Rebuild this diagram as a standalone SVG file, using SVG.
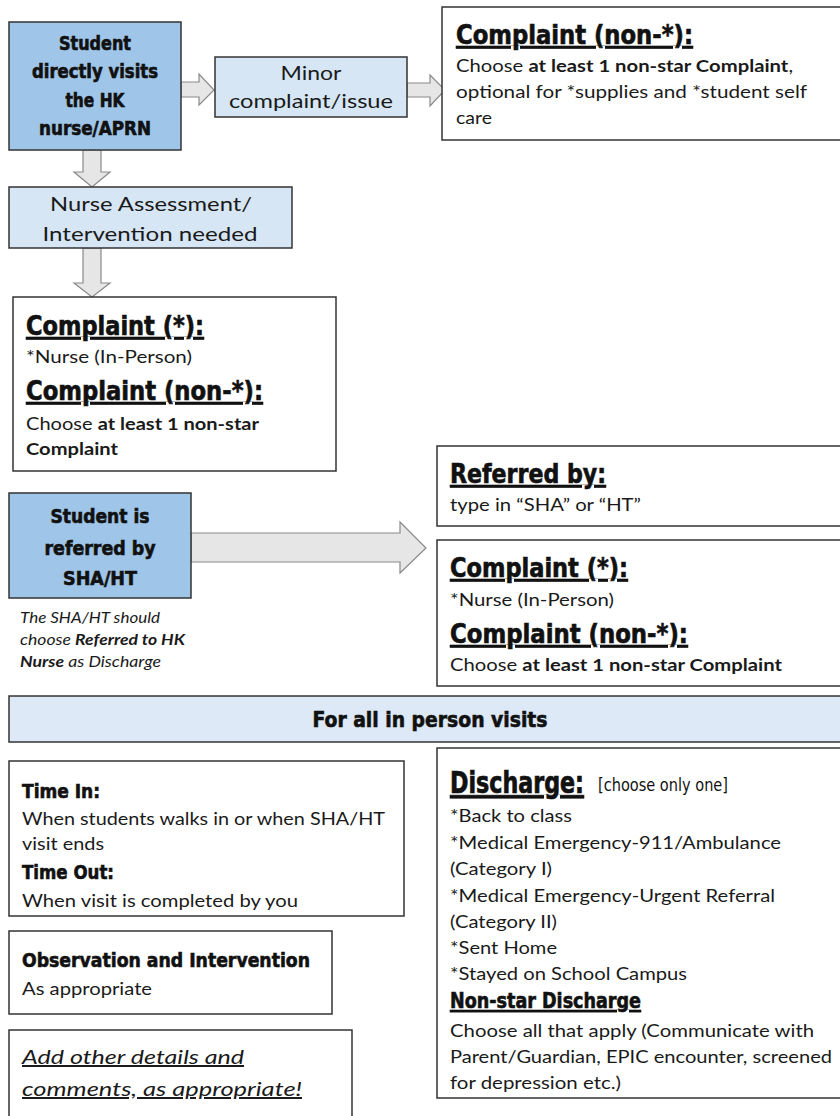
<svg xmlns="http://www.w3.org/2000/svg" width="840" height="1116" viewBox="0 0 840 1116">
<style>
.box{stroke:#333;stroke-width:1.5;fill:#fff}
.dark{fill:#9fc5e8}
.light{fill:#d6e6f5}
.band{fill:#dde9f6}
.arrow{fill:#e6e6e6;stroke:#8a8a8a;stroke-width:1.2;stroke-linejoin:miter}
.h{font-family:"DejaVu Sans Condensed","Liberation Sans Narrow","DejaVu Sans",sans-serif;font-weight:bold;fill:#111;stroke:#111;stroke-width:0.6}
.hn{font-family:"DejaVu Sans Condensed","Liberation Sans Narrow","DejaVu Sans",sans-serif;font-weight:normal;fill:#111;stroke:none}
.t{font-family:Lato,"Open Sans",sans-serif;fill:#1a1a1a}
.bb{font-weight:bold}
.u{text-decoration:underline}
.i{font-style:italic}
.mid{text-anchor:middle}
</style>
<rect width="840" height="1116" fill="#fff"/>

<g id="connectors">
<path class="arrow" d="M181,82 H199 V74 L214,90 L199,105 V97 H181 Z"/>
<path class="arrow" d="M407,83 H430 V75 L445,90 L430,106 V97 H407 Z"/>
<path class="arrow" d="M83,150 V172 H74 L92,187 L110,172 H101 V150 Z"/>
<path class="arrow" d="M83,248 V283 H74 L92,297 L110,283 H101 V248 Z"/>
<path class="arrow" d="M191,533 H400 V522 L426,548 L400,573 V562 H191 Z"/>
</g>

<g id="student-direct">
<rect class="box dark" x="9" y="22" width="172" height="128"/>
<text class="h mid" font-size="19" x="95" y="50" textLength="72" lengthAdjust="spacingAndGlyphs">Student</text>
<text class="h mid" font-size="19" x="95" y="78" textLength="126" lengthAdjust="spacingAndGlyphs">directly visits</text>
<text class="h mid" font-size="19" x="95" y="107" textLength="59" lengthAdjust="spacingAndGlyphs">the HK</text>
<text class="h mid" font-size="19" x="95" y="135" textLength="112" lengthAdjust="spacingAndGlyphs">nurse/APRN</text>
</g>

<g id="minor">
<rect class="box light" x="215" y="57" width="192" height="60"/>
<text class="t mid" font-size="19" x="311" y="80" textLength="61" lengthAdjust="spacingAndGlyphs">Minor</text>
<text class="t mid" font-size="19" x="311" y="108" textLength="164" lengthAdjust="spacingAndGlyphs">complaint/issue</text>
</g>

<g id="complaint-minor">
<rect class="box" x="442" y="7" width="410" height="133"/>
<text class="h u" font-size="26" x="456" y="44" textLength="237" lengthAdjust="spacingAndGlyphs">Complaint (non-*):</text>
<text class="t" font-size="17" x="456" y="72" textLength="337" lengthAdjust="spacingAndGlyphs">Choose <tspan class="bb">at least 1 non-star Complaint</tspan>,</text>
<text class="t" font-size="17" x="456" y="98" textLength="351" lengthAdjust="spacingAndGlyphs">optional for *supplies and *student self</text>
<text class="t" font-size="17" x="456" y="124" textLength="36" lengthAdjust="spacingAndGlyphs">care</text>
</g>

<g id="nurse-assessment">
<rect class="box light" x="9" y="187" width="283" height="61"/>
<text class="t mid" font-size="20" x="151" y="211" textLength="202" lengthAdjust="spacingAndGlyphs">Nurse Assessment/</text>
<text class="t mid" font-size="20" x="150" y="241" textLength="215" lengthAdjust="spacingAndGlyphs">Intervention needed</text>
</g>

<g id="complaint-assessment">
<rect class="box" x="13" y="297" width="323" height="174"/>
<text class="h u" font-size="26" x="26" y="335" textLength="178" lengthAdjust="spacingAndGlyphs">Complaint (*):</text>
<text class="t" font-size="17" x="26" y="363" textLength="166" lengthAdjust="spacingAndGlyphs">*Nurse (In-Person)</text>
<text class="h u" font-size="26" x="26" y="400" textLength="237" lengthAdjust="spacingAndGlyphs">Complaint (non-*):</text>
<text class="t" font-size="17" x="26" y="430" textLength="233" lengthAdjust="spacingAndGlyphs">Choose <tspan class="bb">at least 1 non-star</tspan></text>
<text class="t bb" font-size="17" x="26" y="455" textLength="92" lengthAdjust="spacingAndGlyphs">Complaint</text>
</g>

<g id="student-referred">
<rect class="box dark" x="9" y="493" width="182" height="105"/>
<text class="h mid" font-size="20" x="100" y="523" textLength="99" lengthAdjust="spacingAndGlyphs">Student is</text>
<text class="h mid" font-size="20" x="100" y="555" textLength="111" lengthAdjust="spacingAndGlyphs">referred by</text>
<text class="h mid" font-size="20" x="100" y="585" textLength="74" lengthAdjust="spacingAndGlyphs">SHA/HT</text>
</g>

<g id="referral-note">
<text class="t i" font-size="16" x="20" y="623" textLength="140" lengthAdjust="spacingAndGlyphs">The SHA/HT should</text>
<text class="t i" font-size="16" x="20" y="645" textLength="165" lengthAdjust="spacingAndGlyphs">choose <tspan class="bb">Referred to HK</tspan></text>
<text class="t i" font-size="16" x="20" y="667" textLength="141" lengthAdjust="spacingAndGlyphs"><tspan class="bb">Nurse</tspan> as Discharge</text>
</g>

<g id="referred-by">
<rect class="box" x="437" y="446" width="410" height="80"/>
<text class="h u" font-size="26" x="450" y="483" textLength="156" lengthAdjust="spacingAndGlyphs">Referred by:</text>
<text class="t" font-size="17" x="450" y="511" textLength="191" lengthAdjust="spacingAndGlyphs">type in “SHA” or “HT”</text>
</g>

<g id="complaint-referred">
<rect class="box" x="437" y="540" width="410" height="146"/>
<text class="h u" font-size="26" x="450" y="577" textLength="178" lengthAdjust="spacingAndGlyphs">Complaint (*):</text>
<text class="t" font-size="17" x="450" y="606" textLength="164" lengthAdjust="spacingAndGlyphs">*Nurse (In-Person)</text>
<text class="h u" font-size="26" x="450" y="643" textLength="238" lengthAdjust="spacingAndGlyphs">Complaint (non-*):</text>
<text class="t" font-size="17" x="450" y="671" textLength="332" lengthAdjust="spacingAndGlyphs">Choose <tspan class="bb">at least 1 non-star Complaint</tspan></text>
</g>

<g id="all-visits">
<rect class="box band" x="9" y="696" width="845" height="46"/>
<text class="h mid" font-size="22" x="430" y="727" textLength="235" lengthAdjust="spacingAndGlyphs">For all in person visits</text>
</g>

<g id="time">
<rect class="box" x="9" y="761" width="395" height="155"/>
<text class="h" font-size="20" x="22" y="798" textLength="78" lengthAdjust="spacingAndGlyphs">Time In:</text>
<text class="t" font-size="17" x="22" y="825" textLength="363" lengthAdjust="spacingAndGlyphs">When students walks in or when SHA/HT</text>
<text class="t" font-size="17" x="22" y="850" textLength="82" lengthAdjust="spacingAndGlyphs">visit ends</text>
<text class="h" font-size="20" x="22" y="879" textLength="92" lengthAdjust="spacingAndGlyphs">Time Out:</text>
<text class="t" font-size="17" x="22" y="907" textLength="276" lengthAdjust="spacingAndGlyphs">When visit is completed by you</text>
</g>

<g id="observation">
<rect class="box" x="9" y="931" width="323" height="83"/>
<text class="h" font-size="20" x="22" y="967" textLength="288" lengthAdjust="spacingAndGlyphs">Observation and Intervention</text>
<text class="t" font-size="17" x="22" y="995" textLength="130" lengthAdjust="spacingAndGlyphs">As appropriate</text>
</g>

<g id="details">
<rect class="box" x="9" y="1030" width="343" height="100"/>
<text class="t i u" font-size="20" x="22" y="1064" textLength="222" lengthAdjust="spacingAndGlyphs">Add other details and</text>
<text class="t i u" font-size="20" x="22" y="1096" textLength="280" lengthAdjust="spacingAndGlyphs">comments, as appropriate!</text>
</g>

<g id="discharge">
<rect class="box" x="437" y="748" width="410" height="350"/>
<text class="h u" font-size="25" transform="translate(450,793) scale(1,1.2)" x="0" y="0" textLength="134" lengthAdjust="spacingAndGlyphs">Discharge:</text>
<text class="hn" font-size="18" x="598" y="791" textLength="130" lengthAdjust="spacingAndGlyphs">[choose only one]</text>
<text class="t" font-size="17.5" x="450" y="822" textLength="122" lengthAdjust="spacingAndGlyphs">*Back to class</text>
<text class="t" font-size="17.5" x="450" y="849" textLength="331" lengthAdjust="spacingAndGlyphs">*Medical Emergency-911/Ambulance</text>
<text class="t" font-size="17.5" x="450" y="875" textLength="102" lengthAdjust="spacingAndGlyphs">(Category I)</text>
<text class="t" font-size="17.5" x="450" y="902" textLength="325" lengthAdjust="spacingAndGlyphs">*Medical Emergency-Urgent Referral</text>
<text class="t" font-size="17.5" x="450" y="928" textLength="107" lengthAdjust="spacingAndGlyphs">(Category II)</text>
<text class="t" font-size="17.5" x="450" y="954" textLength="107" lengthAdjust="spacingAndGlyphs">*Sent Home</text>
<text class="t" font-size="17.5" x="450" y="980" textLength="237" lengthAdjust="spacingAndGlyphs">*Stayed on School Campus</text>
<text class="h u" font-size="21" x="450" y="1008" textLength="191" lengthAdjust="spacingAndGlyphs">Non-star Discharge</text>
<text class="t" font-size="17.5" x="450" y="1037" textLength="364" lengthAdjust="spacingAndGlyphs">Choose all that apply (Communicate with</text>
<text class="t" font-size="17.5" x="450" y="1063" textLength="382" lengthAdjust="spacingAndGlyphs">Parent/Guardian, EPIC encounter, screened</text>
<text class="t" font-size="17.5" x="450" y="1089" textLength="171" lengthAdjust="spacingAndGlyphs">for depression etc.)</text>
</g>
</svg>
